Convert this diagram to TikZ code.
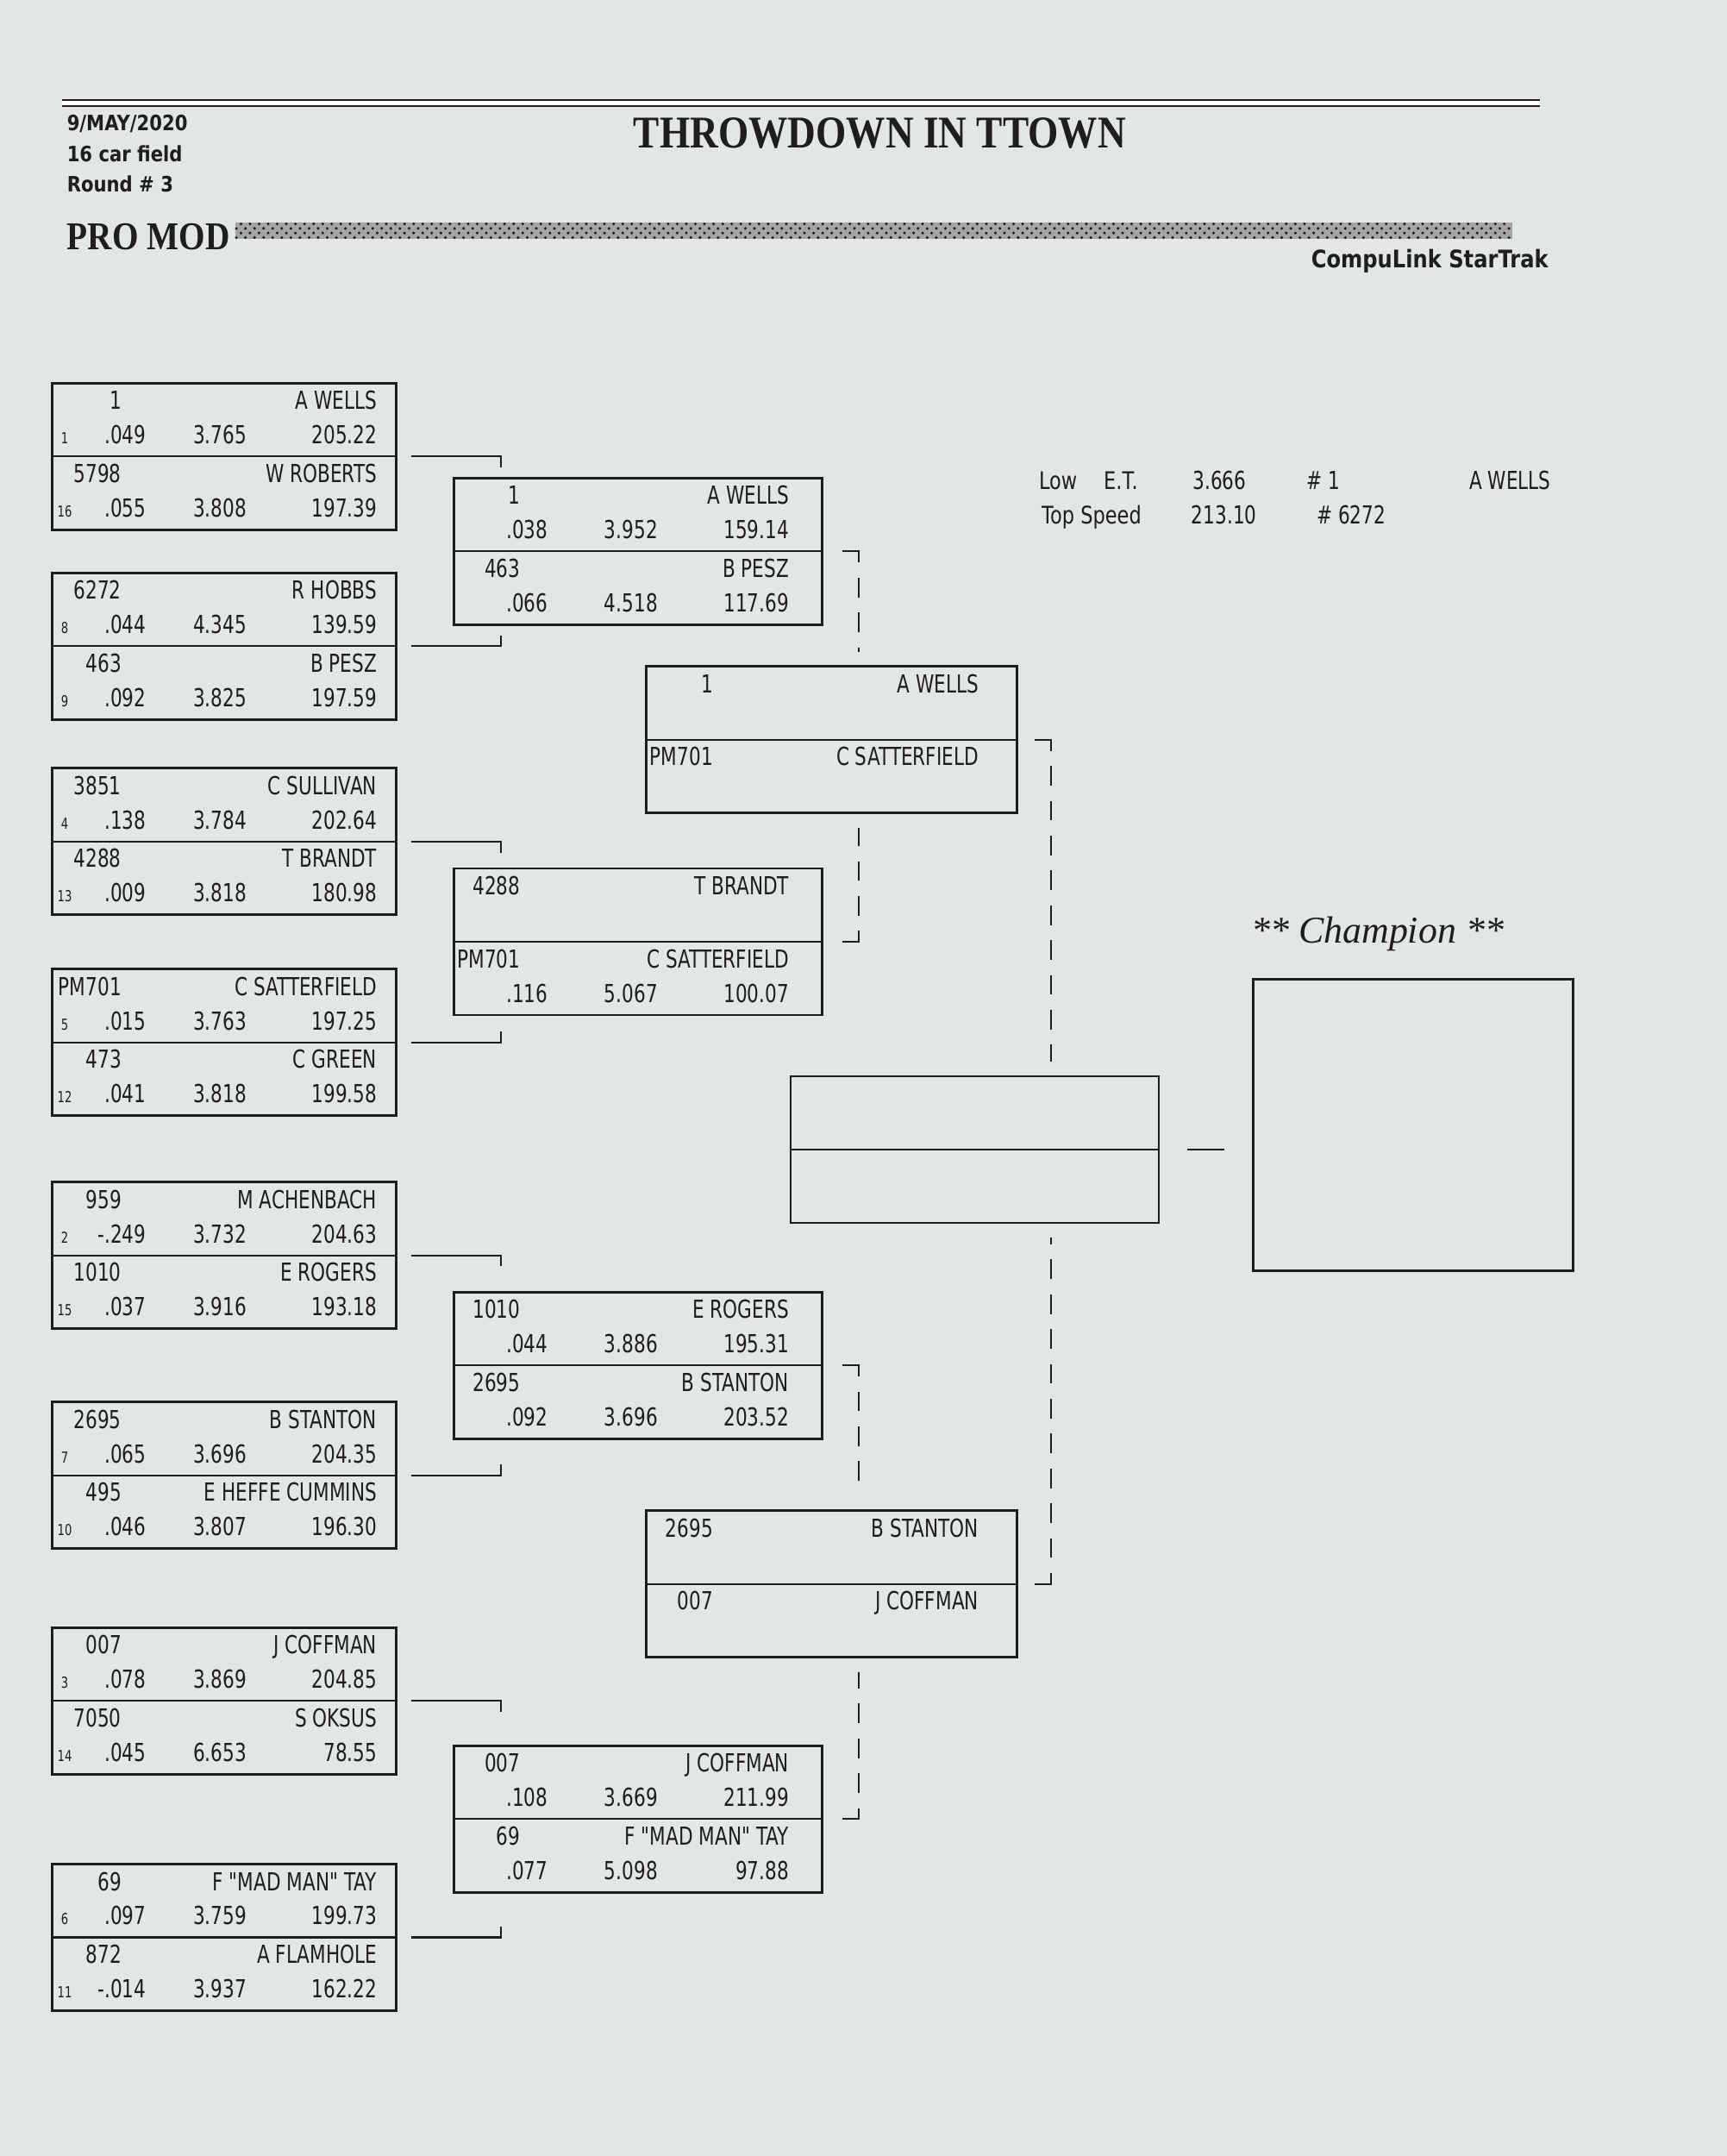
\documentclass[tikz,border=0pt]{standalone}
\usepackage{fontspec}
\setmainfont{Liberation Serif}
\newfontfamily\plotfont[FakeStretch=0.75]{DejaVu Sans}
\newfontfamily\labelfont[FakeStretch=0.8]{DejaVu Sans}
\newfontfamily\headfont[FakeStretch=0.86]{DejaVu Sans}
\newfontfamily\titlefont[FakeStretch=0.86]{Liberation Serif}
\usetikzlibrary{calc, patterns}
\definecolor{ink}{HTML}{1E1E1E}
\definecolor{paper}{HTML}{E3E6E6}
\tikzset{
  every picture/.style={line width=0.7pt},
  pairbox/.style={draw=ink, line width=0.75pt, inner sep=0pt, minimum width=#1, minimum height=1.7cm},
  pairbox/.default=3.99cm,
  entry/.style={font=\plotfont\fontsize{8.2}{9}\selectfont, text=ink, inner sep=0pt},
  seedno/.style={font=\plotfont\fontsize{5}{6}\selectfont, text=ink, inner sep=0pt},
  link/.style={draw=ink, line width=0.6pt},
  dashlink/.style={link, dash pattern=on 6.5pt off 5pt, dash phase=6.5pt},
  headline/.style={font=\headfont\bfseries\fontsize{7}{8}\selectfont, text=ink, anchor=west, inner sep=0pt},
  statlabel/.style={font=\labelfont\fontsize{8}{9}\selectfont, text=ink, anchor=base west, inner sep=0pt},
}

\begin{document}
\begin{tikzpicture}[x=0.01594cm, y=-0.01594cm]
  \fill[paper] (0,0) rectangle (1256,1568);
  \useasboundingbox (0,0) rectangle (1256,1568);

  % header
  \draw[ink, double, double distance=1.4pt, line width=0.6pt] (45,75) -- (1120,75);
  \node[font=\titlefont\bfseries\fontsize{15}{17}\selectfont, text=ink, inner sep=0pt] (title) at (640,97) {THROWDOWN IN TTOWN};
  \node[headline] (date) at (48,90) {9/MAY/2020};
  \node[headline] (field) at (48,112) {16 car field};
  \node[headline] (round) at (48,134) {Round \# 3};
  \node[font=\titlefont\bfseries\fontsize{13}{15}\selectfont, text=ink, anchor=west, inner sep=0pt] (class) at (48,172) {PRO MOD};
  \fill[ink!40] ($(class.east)+(3,-10)$) rectangle (1100,174);
  \fill[pattern=crosshatch dots, pattern color=ink] ($(class.east)+(3,-10)$) rectangle (1100,174);
  \node[headline, font=\headfont\bfseries\fontsize{8}{9}\selectfont, anchor=east] (system) at (1127,190) {CompuLink StarTrak};

  % low et / top speed
  \node[statlabel] (lowet) at (755,356) {Low\hspace{1.1em}E.T.};
  \node[entry, anchor=base west] (lowetv) at (867,356) {3.666};
  \node[entry, anchor=base west] (lowetno) at (950,356) {\# 1};
  \node[entry, anchor=base west] (lowetname) at (1068,356) {A WELLS};
  \node[statlabel] (topspd) at (757,381) {Top Speed};
  \node[entry, anchor=base west] (topspdv) at (866,381) {213.10};
  \node[entry, anchor=base west] (topspdno) at (957,381) {\# 6272};

  % round 1
  \foreach \y/\sa/\ca/\na/\ra/\ea/\va/\sb/\cb/\nb/\rb/\eb/\vb [count=\i] in {
      332/1/1/A WELLS/.049/3.765/205.22/16/5798/W ROBERTS/.055/3.808/197.39,
      470/8/6272/R HOBBS/.044/4.345/139.59/9/463/B PESZ/.092/3.825/197.59,
      612/4/3851/C SULLIVAN/.138/3.784/202.64/13/4288/T BRANDT/.009/3.818/180.98,
      758/5/PM701/C SATTERFIELD/.015/3.763/197.25/12/473/C GREEN/.041/3.818/199.58,
      913/2/959/M ACHENBACH/-.249/3.732/204.63/15/1010/E ROGERS/.037/3.916/193.18,
      1073/7/2695/B STANTON/.065/3.696/204.35/10/495/E HEFFE CUMMINS/.046/3.807/196.30,
      1237/3/007/J COFFMAN/.078/3.869/204.85/14/7050/S OKSUS/.045/6.653/78.55,
      1409/6/69/F "MAD MAN" TAY/.097/3.759/199.73/11/872/A FLAMHOLE/-.014/3.937/162.22} {
    \node[pairbox] (r1-\i) at (163,\y) {};
    \draw[link] (r1-\i.west) -- (r1-\i.east);
    \node[entry, anchor=base east] (r1-\i-ca) at ($(r1-\i.north west)+(52,20)$) {\ca};
    \node[entry, anchor=base east] (r1-\i-na) at ($(r1-\i.north east)+(-14,20)$) {\na};
    \node[seedno, anchor=base] (r1-\i-sa) at ($(r1-\i.north west)+(10,45)$) {\sa};
    \node[entry, anchor=base east] (r1-\i-ra) at ($(r1-\i.north west)+(70,45)$) {\ra};
    \node[entry, anchor=base] (r1-\i-ea) at ($(r1-\i.north)+(-3,45)$) {\ea};
    \node[entry, anchor=base east] (r1-\i-va) at ($(r1-\i.north east)+(-14,45)$) {\va};
    \node[entry, anchor=base east] (r1-\i-cb) at ($(r1-\i.north west)+(52,73)$) {\cb};
    \node[entry, anchor=base east] (r1-\i-nb) at ($(r1-\i.north east)+(-14,73)$) {\nb};
    \node[seedno, anchor=base] (r1-\i-sb) at ($(r1-\i.north west)+(10,98)$) {\sb};
    \node[entry, anchor=base east] (r1-\i-rb) at ($(r1-\i.north west)+(70,98)$) {\rb};
    \node[entry, anchor=base] (r1-\i-eb) at ($(r1-\i.north)+(-3,98)$) {\eb};
    \node[entry, anchor=base east] (r1-\i-vb) at ($(r1-\i.north east)+(-14,98)$) {\vb};
  }

  % round 2
  \foreach \y/\ca/\na/\ra/\ea/\va/\cb/\nb/\rb/\eb/\vb [count=\j] in {
      401/1/A WELLS/.038/3.952/159.14/463/B PESZ/.066/4.518/117.69,
      685/4288/T BRANDT/{}/{}/{}/PM701/C SATTERFIELD/.116/5.067/100.07,
      993/1010/E ROGERS/.044/3.886/195.31/2695/B STANTON/.092/3.696/203.52,
      1323/007/J COFFMAN/.108/3.669/211.99/69/F "MAD MAN" TAY/.077/5.098/97.88} {
    \node[pairbox=4.27cm] (r2-\j) at (464,\y) {};
    \draw[link] (r2-\j.west) -- (r2-\j.east);
    \node[entry, anchor=base east] (r2-\j-ca) at ($(r2-\j.north west)+(50,20)$) {\ca};
    \node[entry, anchor=base east] (r2-\j-na) at ($(r2-\j.north east)+(-24,20)$) {\na};
    \node[entry, anchor=base east] (r2-\j-ra) at ($(r2-\j.north west)+(70,45)$) {\ra};
    \node[entry, anchor=base] (r2-\j-ea) at ($(r2-\j.north)+(-5,45)$) {\ea};
    \node[entry, anchor=base east] (r2-\j-va) at ($(r2-\j.north east)+(-24,45)$) {\va};
    \node[entry, anchor=base east] (r2-\j-cb) at ($(r2-\j.north west)+(50,73)$) {\cb};
    \node[entry, anchor=base east] (r2-\j-nb) at ($(r2-\j.north east)+(-24,73)$) {\nb};
    \node[entry, anchor=base east] (r2-\j-rb) at ($(r2-\j.north west)+(70,98)$) {\rb};
    \node[entry, anchor=base] (r2-\j-eb) at ($(r2-\j.north)+(-5,98)$) {\eb};
    \node[entry, anchor=base east] (r2-\j-vb) at ($(r2-\j.north east)+(-24,98)$) {\vb};
  }

  % round 3
  \foreach \y/\ca/\na/\cb/\nb [count=\k] in {538/1/A WELLS/PM701/C SATTERFIELD, 1152/2695/B STANTON/007/J COFFMAN} {
    \node[pairbox=4.3cm] (r3-\k) at (605,\y) {};
    \draw[link] (r3-\k.west) -- (r3-\k.east);
    \node[entry, anchor=base east] (r3-\k-ca) at ($(r3-\k.north west)+(50,20)$) {\ca};
    \node[entry, anchor=base east] (r3-\k-na) at ($(r3-\k.north east)+(-28,20)$) {\na};
    \node[entry, anchor=base east] (r3-\k-cb) at ($(r3-\k.north west)+(50,73)$) {\cb};
    \node[entry, anchor=base east] (r3-\k-nb) at ($(r3-\k.north east)+(-28,73)$) {\nb};
  }

  % final and champion
  \node[pairbox=4.27cm] (final) at (709,836) {};
  \draw[link] (final.west) -- (final.east);
  \node[draw=ink, line width=0.75pt, inner sep=0pt, minimum width=3.71cm, minimum height=3.38cm] (champ) at (1028,818) {};
  \node[font=\itshape\fontsize{12.5}{14}\selectfont, text=ink, inner sep=0pt] (champlabel) at ($(champ.north)+(-26,-32)$) {** Champion **};

  % brackets
  \foreach \i/\j/\d in {1/1/8, 2/1/-8, 3/2/8, 4/2/-8, 5/3/8, 6/3/-8, 7/4/8, 8/4/-8}
    \draw[link] ($(r1-\i.east)+(10,0)$) -- ($(r2-\j.west |- r1-\i.east)+(35,0)$) -- ++(0,\d);
  \foreach \j/\k/\d/\e/\g in {1/1/8/north/-10, 2/1/-8/south/10, 3/2/8/north/-10, 4/2/-8/south/10} {
    \draw[link] ($(r2-\j.east)+(14,0)$) -- ($(r2-\j.east)+(26,0)$) -- ++(0,\d);
    \draw[dashlink] ($(r2-\j.east)+(26,\d)$) -- ($(r2-\j.east |- r3-\k.\e)+(26,\g)$);
  }
  \foreach \k/\d/\e/\g in {1/8/north/-10, 2/-8/south/10} {
    \draw[link] ($(r3-\k.east)+(12,0)$) -- ($(r3-\k.east)+(24,0)$) -- ++(0,\d);
    \draw[dashlink] ($(r3-\k.east)+(24,\d)$) -- ($(r3-\k.east |- final.\e)+(24,\g)$);
  }
  \draw[link] ($(final.east)+(20,0)$) -- ($(final.east -| champ.west)+(-20,0)$);
\end{tikzpicture}
\end{document}
